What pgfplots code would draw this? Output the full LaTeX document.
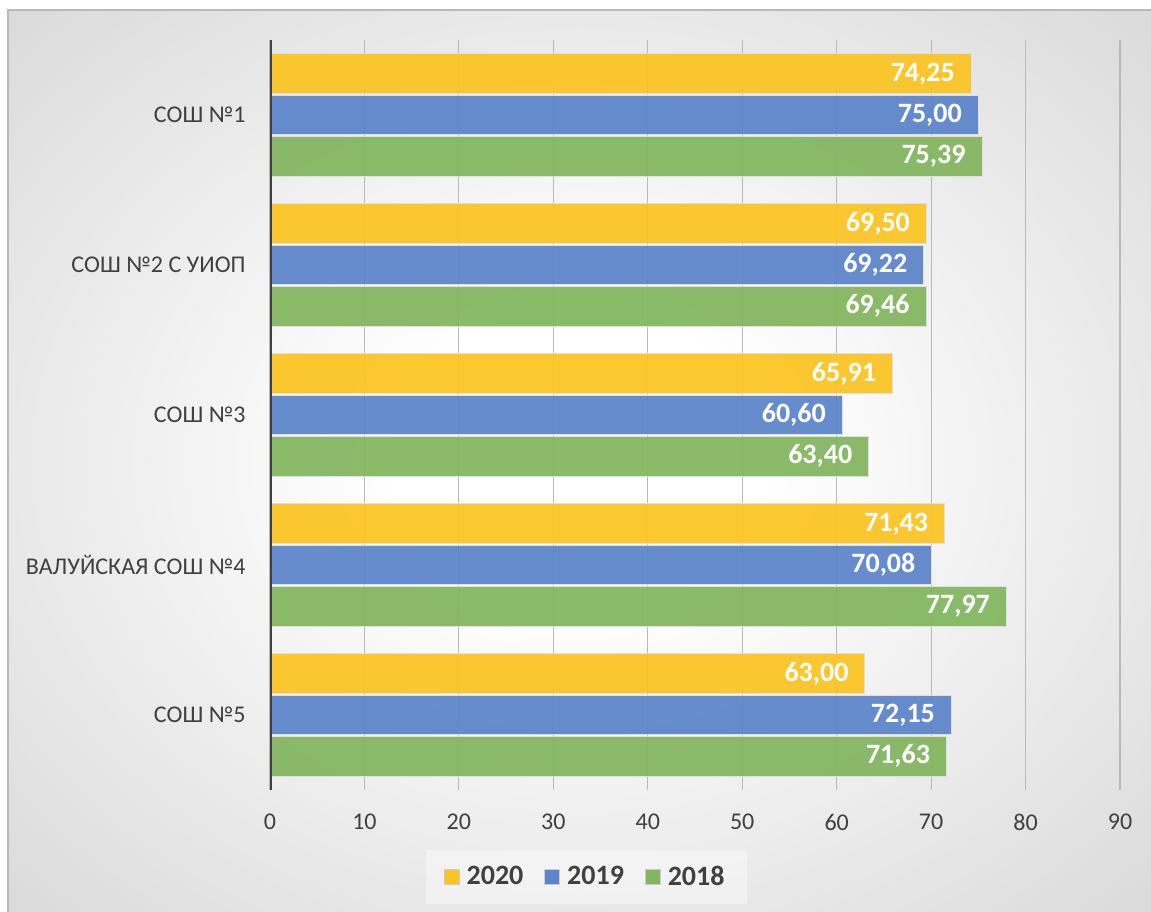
\documentclass[border=0pt]{standalone}
\usepackage{pgfplots}
\pgfplotsset{compat=1.18}
\usepackage{fontspec}
\setmainfont{Carlito}

\definecolor{c2020}{RGB}{252,196,34}
\definecolor{c2019}{RGB}{92,132,202}
\definecolor{c2018}{RGB}{130,182,94}
\definecolor{txt}{RGB}{64,64,64}
\definecolor{gridc}{RGB}{185,185,185}
\definecolor{bgedge}{RGB}{212,212,212}
\definecolor{bgdark}{RGB}{192,192,192}
\pgfdeclareradialshading{chartbg}{\pgfpoint{0bp}{0bp}}{color(0bp)=(white); color(8bp)=(white); color(40bp)=(bgedge); color(71bp)=(bgdark)}

\begin{document}
\begin{tikzpicture}
\useasboundingbox (0,0) rectangle (575.5pt,455.5pt);
\fill[white] (0,0) rectangle (575.5pt,455.5pt);
\shade[shading=chartbg] (4pt,0pt) rectangle (575.5pt,450.5pt);
\draw[gray!55, line width=0.6pt] (4pt,-1pt) rectangle (577pt,450.5pt);

\begin{axis}[
    at={(135pt,60.5pt)}, anchor=south west,
    scale only axis, width=425pt, height=375pt,
    xbar, bar shift=0pt, bar width=0.265,
    enlargelimits=false,
    xmin=0, xmax=90, ymin=-0.5, ymax=4.5,
    y dir=reverse,
    xtick={0,10,...,90},
    ytick={0,1,2,3,4},
    yticklabels={СОШ №1, СОШ №2 С УИОП, СОШ №3, ВАЛУЙСКАЯ СОШ №4, СОШ №5},
    axis lines=left,
    axis line style={draw=none},
    tick style={draw=none},
    major tick length=0pt,
    xmajorgrids,
    grid style={gridc, line width=0.6pt},
    tick label style={txt, font=\fontsize{12}{14}\selectfont, inner sep=0pt},
    yticklabel shift=12pt,
    xticklabel shift=12pt,
    /pgf/number format/assume math mode=true,
    point meta=x,
    nodes near coords={\pgfmathprintnumber[fixed,fixed zerofill,precision=2,use comma,assume math mode=true]{\pgfplotspointmeta}},
    every node near coord/.append style={anchor=east, xshift=-8pt, inner sep=0pt, text=white, text opacity=1, font=\bfseries\fontsize{14}{16}\selectfont},
    legend columns=-1,
    legend style={at={(0.372,-0.116)}, anchor=center, draw=none,
      fill=white, fill opacity=0.4, text opacity=1,
      inner xsep=9pt, inner ysep=4.5pt,
      font=\bfseries\fontsize{14}{16}\selectfont, text=txt,
      nodes={inner xsep=2pt, inner ysep=3.5pt},
      /tikz/every odd column/.append style={column sep=1.5pt},
      /tikz/every even column/.append style={column sep=8.5pt}},
    legend image code/.code={\draw[#1, fill opacity=1, draw opacity=1, draw=white!80!black, line width=0.4pt] (0pt,-3.75pt) rectangle (7.5pt,3.75pt);},
]
% 2020
\addplot[fill=c2020, fill opacity=0.93, draw=white!88!black, line width=0.5pt] coordinates {(74.25,-0.275) (69.50,0.725) (65.91,1.725) (71.43,2.725) (63.00,3.725)};
\addlegendentry{2020}
% 2019
\addplot[fill=c2019, fill opacity=0.93, draw=white!88!black, line width=0.5pt] coordinates {(75.00,0) (69.22,1) (60.60,2) (70.08,3) (72.15,4)};
\addlegendentry{2019}
% 2018
\addplot[fill=c2018, fill opacity=0.93, draw=white!88!black, line width=0.5pt] coordinates {(75.39,0.275) (69.46,1.275) (63.40,2.275) (77.97,3.275) (71.63,4.275)};
\addlegendentry{2018}

% left axis line over the bars
\draw[txt, line width=1.6pt] (rel axis cs:0,0) -- (rel axis cs:0,1);
\end{axis}
\end{tikzpicture}
\end{document}
